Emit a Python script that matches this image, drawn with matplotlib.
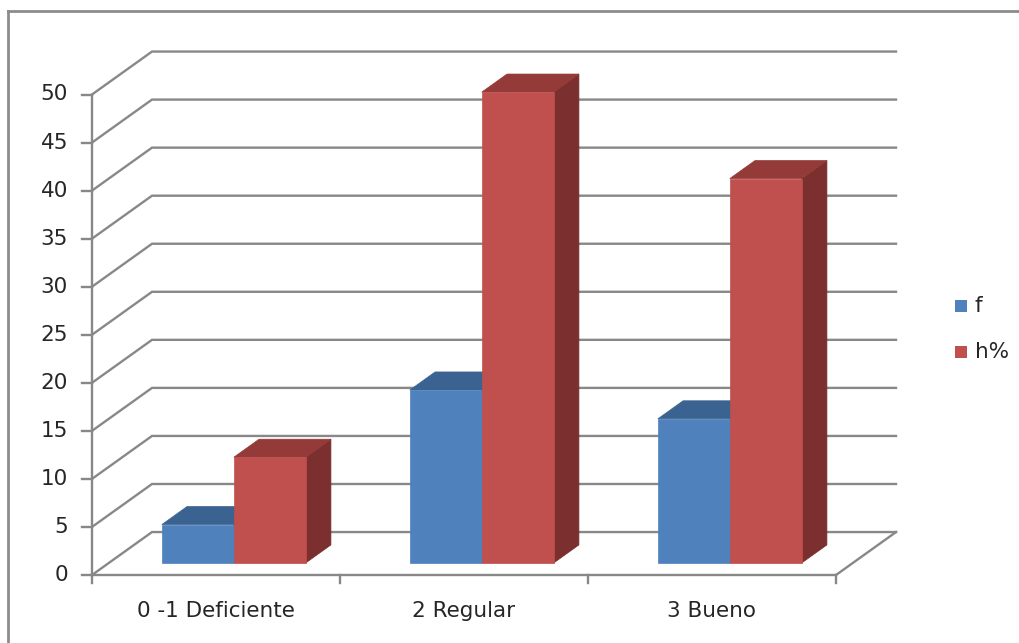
import matplotlib
matplotlib.use("Agg")
import matplotlib.pyplot as plt
from matplotlib.patches import Polygon

# ---------------------------------------------------------------
# Data
# ---------------------------------------------------------------
categories = ["0 -1 Deficiente", "2 Regular", "3 Bueno"]
f_values = [4, 18, 15]
h_values = [11, 49, 40]
series_names = ["f", "h%"]
y_ticks = list(range(0, 55, 5))

# colours (front, top, side) for each series
colors = {
    "f": ("#4F81BD", "#3B6391", "#2F4F75"),
    "h%": ("#C0504D", "#943A38", "#7B2F2E"),
}
grid_col = "#888888"
text_col = "#262626"

# oblique "3D" projection: depth z in [0, 1]
DX, DY = 0.242, 4.47       # full depth offset (category units, value units)
Z0, Z1 = 0.28, 0.70        # bar front / back depth
BAR_W = 0.29
n = len(categories)


def proj(x, y, z):
    return (x + z * DX, y + z * DY)


fig = plt.figure(figsize=(10.2, 6.43), dpi=100)
W, H = 1020, 643
# axes covers px x 60..960, y 20..630 ; 0 -> px 92, 1 unit -> 248 px ; 0 -> px 575, 9.61 px/unit
ax = fig.add_axes([60 / W, (H - 630) / H, 900 / W, 610 / H])
ax.set_xlim((60 - 92) / 248, (960 - 92) / 248)
ax.set_ylim((575 - 630) / 9.61, (575 - 20) / 9.61)
ax.axis("off")

# back wall gridlines (with left diagonal)
for v in y_ticks:
    x0, y0 = proj(0, v, 0)
    x1, y1 = proj(0, v, 1)
    x2, y2 = proj(n, v, 1)
    ax.plot([x0, x1, x2], [y0, y1, y2], color=grid_col, lw=1.7,
            solid_joinstyle="miter", zorder=1)

# floor right edge
fx0, fy0 = proj(n, 0, 0)
fx1, fy1 = proj(n, 0, 1)
ax.plot([fx0, fx1], [fy0, fy1], color=grid_col, lw=1.7, zorder=1)

# value axis and category axis
ax.plot([0, 0], [0, 50], color=grid_col, lw=1.7, zorder=2)
ax.plot([0, n], [0, 0], color=grid_col, lw=1.7, zorder=2)
tick_len_x = 10 / 248
tick_len_y = 8 / 9.61
for v in y_ticks:
    ax.plot([-tick_len_x, 0], [v, v], color=grid_col, lw=1.7, zorder=2)
    ax.text(-24 / 248, v, str(v), ha="right", va="center",
            fontsize=15.5, color=text_col)
for i in range(n + 1):
    ax.plot([i, i], [0, -tick_len_y], color=grid_col, lw=1.7, zorder=2)
for i, cat in enumerate(categories):
    ax.text(i + 0.5, -3.7, cat, ha="center", va="center",
            fontsize=15.5, color=text_col)


def draw_bar(xl, xr, val, cols, zo):
    front, top, side = cols
    top_pts = [proj(xl, val, Z0), proj(xr, val, Z0), proj(xr, val, Z1), proj(xl, val, Z1)]
    side_pts = [proj(xr, 0, Z0), proj(xr, val, Z0), proj(xr, val, Z1), proj(xr, 0, Z1)]
    front_pts = [proj(xl, 0, Z0), proj(xr, 0, Z0), proj(xr, val, Z0), proj(xl, val, Z0)]
    for pts, c in ((side_pts, side), (top_pts, top), (front_pts, front)):
        ax.add_patch(Polygon(pts, closed=True, facecolor=c, edgecolor=c,
                             lw=0.5, zorder=zo))


for i in range(n):
    left = i + 0.5 - BAR_W + 0.004
    draw_bar(left, left + BAR_W, f_values[i], colors["f"], 5)
    draw_bar(left + BAR_W, left + 2 * BAR_W, h_values[i], colors["h%"], 6)

# legend
for k, name in enumerate(series_names):
    yc = 306 + k * 46
    fig.patches.append(plt.Rectangle((955 / W, 1 - (yc + 6) / H), 12 / W, 12 / H,
                                     transform=fig.transFigure,
                                     facecolor=colors[name][0], edgecolor="none"))
    fig.text(975 / W, 1 - yc / H, name, ha="left", va="center",
             fontsize=15.5, color=text_col)

# outer chart border (left and top visible)
fig.add_artist(plt.Line2D([8 / W, 8 / W], [0, 1 - 11 / H], color="#8C8C8C",
                          lw=2, transform=fig.transFigure))
fig.add_artist(plt.Line2D([8 / W, 1.01], [1 - 11 / H, 1 - 11 / H], color="#8C8C8C",
                          lw=2, transform=fig.transFigure))

fig.savefig("out.png", dpi=100)
